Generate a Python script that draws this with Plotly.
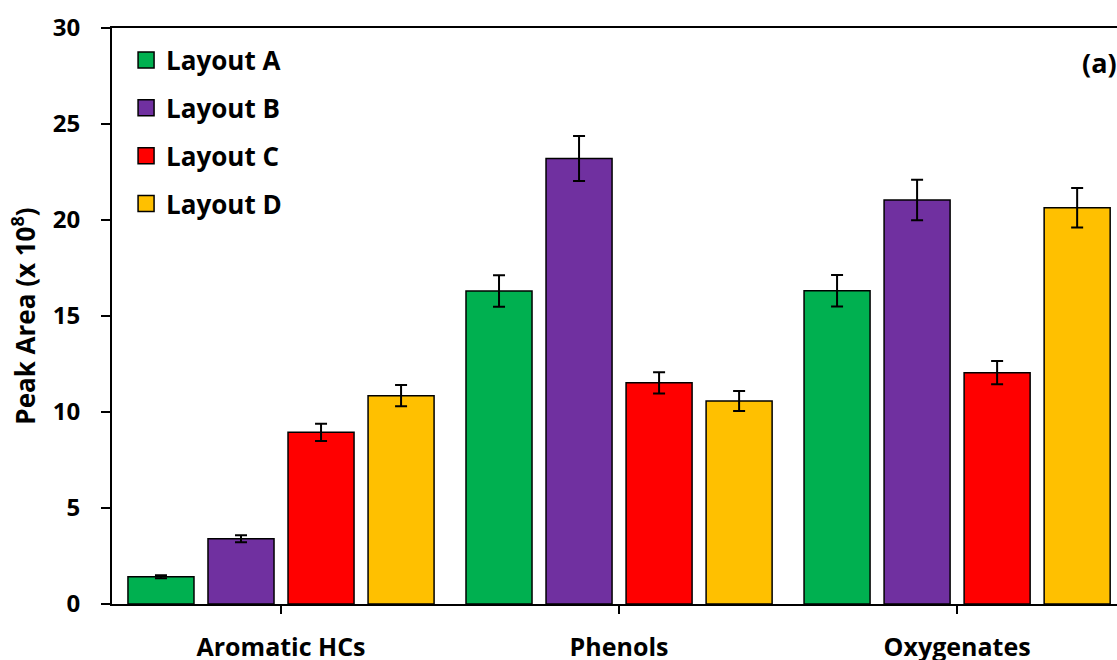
import plotly.graph_objects as go

categories = ["Aromatic HCs", "Phenols", "Oxygenates"]
series_names = ["Layout A", "Layout B", "Layout C", "Layout D"]
colors = ["#00B050", "#7030A0", "#FF0000", "#FFC000"]

layout_a = [1.42, 16.30, 16.32]
layout_b = [3.40, 23.20, 21.04]
layout_c = [8.94, 11.52, 12.05]
layout_d = [10.85, 10.57, 20.64]

err_a = [0.08, 0.82, 0.82]
err_b = [0.18, 1.17, 1.05]
err_c = [0.45, 0.55, 0.60]
err_d = [0.55, 0.52, 1.03]

values = [layout_a, layout_b, layout_c, layout_d]
errors = [err_a, err_b, err_c, err_d]

FONT = "Open Sans"

fig = go.Figure()
for name, vals, errs, col in zip(series_names, values, errors, colors):
    fig.add_trace(go.Bar(
        x=categories, y=vals, name=name, showlegend=False,
        marker=dict(color=col, line=dict(color="black", width=1.5)),
        error_y=dict(type="data", array=errs, visible=True,
                     color="black", thickness=2, width=6),
    ))
# legend-only proxies with larger square swatches
for name, col in zip(series_names, colors):
    fig.add_trace(go.Scatter(
        x=[None], y=[None], mode="markers", name=name,
        legendgroup=name,
        marker=dict(symbol="square", size=16, color=col,
                    line=dict(color="black", width=1.5)),
    ))

fig.update_layout(
    width=1117, height=660,
    margin=dict(l=112, r=0, t=28, b=56, autoexpand=False),
    paper_bgcolor="white", plot_bgcolor="white",
    font=dict(family=FONT, size=24, color="black", weight="bold"),
    barmode="group", bargap=0.053, bargroupgap=0.175,
    legend=dict(x=0.014, y=0.985, xanchor="left", yanchor="top",
                bgcolor="rgba(0,0,0,0)", font=dict(size=26, family=FONT, weight="bold"),
                tracegroupgap=11, itemsizing="trace"),
    showlegend=True,
)
fig.update_xaxes(
    type="category", range=[-0.5, 2.473], automargin=False,
    showline=True, linecolor="black", linewidth=2, mirror=True,
    ticks="outside", ticklen=8, tickwidth=2, tickcolor="black",
    ticklabelstandoff=12, showgrid=False,
    tickfont=dict(size=25, family=FONT, weight="bold"),
)
fig.update_yaxes(
    range=[0, 30], tickvals=[0, 5, 10, 15, 20, 25, 30], automargin=False,
    showline=True, linecolor="black", linewidth=2,
    ticks="outside", ticklen=9, tickwidth=2, tickcolor="black",
    ticklabelstandoff=16, showgrid=False, zeroline=False,
    tickfont=dict(size=24, family=FONT, weight="bold"),
    title=dict(text="Peak Area (x 10<sup>8</sup>)", standoff=10,
               font=dict(size=26, family=FONT, weight="bold")),
)
fig.add_annotation(
    text="(a)", xref="paper", yref="paper", x=1.0, y=0.94,
    xanchor="right", yanchor="middle", showarrow=False, xshift=2,
    font=dict(size=27, family=FONT, weight="bold"),
)

fig.write_html(
    "out.html",
    config={"displayModeBar": False},
    post_script="document.body.style.margin='0';"
                "document.documentElement.style.overflow='hidden';"
                "document.body.style.overflow='hidden';",
)
